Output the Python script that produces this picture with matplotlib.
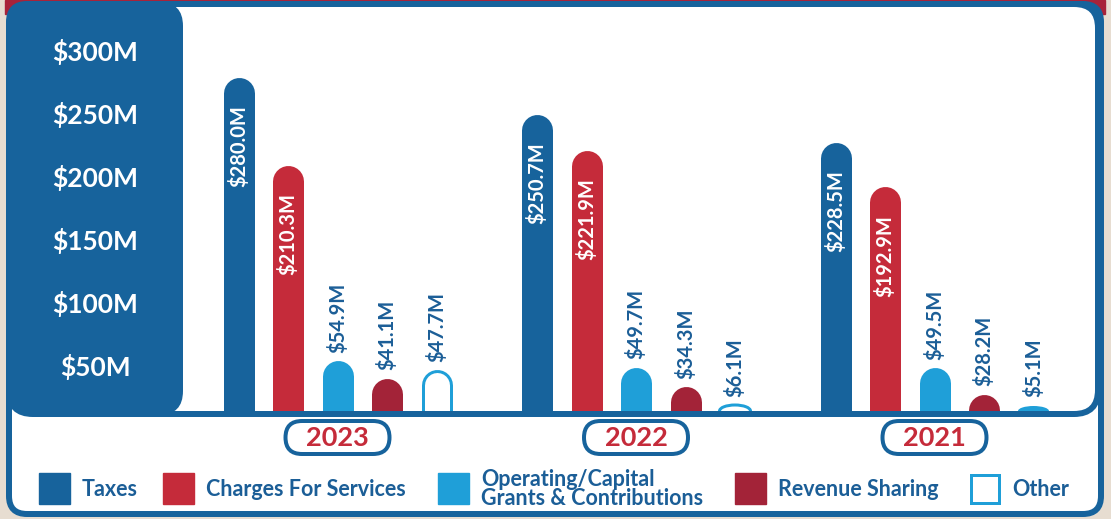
import matplotlib
matplotlib.use("Agg")
import matplotlib.pyplot as plt
from matplotlib.patches import FancyBboxPatch, Rectangle, Ellipse

plt.rcParams['font.family'] = ['Lato', 'DejaVu Sans']

# data ($M)
years = ['2023', '2022', '2021']
categories = ['Taxes', 'Charges For Services', 'Operating/Capital\nGrants & Contributions',
              'Revenue Sharing', 'Other']
taxes = [280.0, 250.7, 228.5]
charges = [210.3, 221.9, 192.9]
grants = [54.9, 49.7, 49.5]
revenue_sharing = [41.1, 34.3, 28.2]
other = [47.7, 6.1, 5.1]
tick_values = [50, 100, 150, 200, 250, 300]
tick_labels = ['$50M', '$100M', '$150M', '$200M', '$250M', '$300M']

series = [taxes, charges, grants, revenue_sharing, other]
colors = ['#17639c', '#c52b3a', '#1f9fd8', '#a32338', '#1f9fd8']
navy = '#17639c'
text_blue = '#1b5e97'
red = '#c52b3a'

W, H = 1111, 519
fig = plt.figure(figsize=(W / 100, H / 100), dpi=100)
fig.patch.set_facecolor('#e7ddd1')

# background / frame in pixel coords
bg = fig.add_axes([0, 0, 1, 1])
bg.set_xlim(0, W)
bg.set_ylim(H, 0)
bg.axis('off')

def px(v):
    return v * 0.72  # pixels -> points

bg.add_patch(Rectangle((5, 0), 1100, 14, color='#a8233a', zorder=0))
bg.add_patch(FancyBboxPatch((9, 4), 1092, 510, boxstyle='round,pad=0,rounding_size=18',
                            fc='white', ec=navy, lw=px(6), zorder=1))
bg.add_patch(FancyBboxPatch((9, 4), 1089, 410, boxstyle='round,pad=0,rounding_size=24',
                            fc='white', ec=navy, lw=px(6), zorder=2))
bg.add_patch(FancyBboxPatch((7, 2), 176, 413, boxstyle='round,pad=0,rounding_size=24',
                            fc=navy, ec='none', zorder=3))

# legend
leg_x = [39, 163, 438, 735, 969]
for i, lab in enumerate(categories):
    x0 = leg_x[i]
    if lab == 'Other':
        bg.add_patch(Rectangle((x0 + 1.5, 474.5), 28, 28, fc='white', ec=colors[i], lw=px(3), zorder=4))
    else:
        bg.add_patch(Rectangle((x0, 473), 31, 31, color=colors[i], zorder=4))
    bg.text(x0 + 43, 489, lab, color=text_blue, fontsize=15.5, fontweight='bold',
            va='center', ha='left', linespacing=0.92, zorder=5)

# chart axes
top_px, bot_px = 5, 411
left_px, right_px = 183, 1097
ax = fig.add_axes([left_px / W, (H - bot_px) / H, (right_px - left_px) / W, (bot_px - top_px) / H])
ax.patch.set_alpha(0)
ymin, ymax = 15.08, 337.3
ax.set_ylim(ymin, ymax)
group_px = 298.5
xmin = -(337.5 - left_px) / group_px
ax.set_xlim(xmin, xmin + (right_px - left_px) / group_px)
ax.axis('off')

px_per_unit = (bot_px - top_px) / (ymax - ymin)
def dpx(p):
    return p / px_per_unit

step = 49.5 / group_px
bar_w = 31
r = dpx(bar_w / 2)
for g in range(len(years)):
    for i, vals in enumerate(series):
        v = vals[g]
        x = g + (i - 2) * step
        vis_top = v
        if v > ymin + r:
            ax.plot([x, x], [0, v - r], color=colors[i], lw=px(bar_w),
                    solid_capstyle='round', zorder=2)
            if categories[i] == 'Other':
                ax.plot([x, x], [0, v - r], color='white', lw=px(bar_w - 6),
                        solid_capstyle='round', zorder=3)
        else:
            # tiny value: only a flat dome shows above the baseline
            wd = bar_w / group_px
            if g == 1:
                ax.add_patch(Ellipse((x, ymin), wd, dpx(12), fc='white', ec=colors[i],
                                     lw=px(3), zorder=2))
            else:
                ax.add_patch(Ellipse((x, ymin), wd, dpx(10), fc=colors[i], ec='none', zorder=2))
            vis_top = ymin + dpx(6)
        lab = '$%.1fM' % v
        if v > 100:
            ax.text(x, v - dpx(28), lab, rotation=90, ha='center', va='top',
                    color='white', fontsize=14.5, fontweight='bold', zorder=4)
        else:
            ax.text(x, vis_top + dpx(8), lab, rotation=90, ha='center', va='bottom',
                    color=text_blue, fontsize=14.5, fontweight='bold', zorder=4)

# y tick labels inside the left panel
for tv, tl in zip(tick_values, tick_labels):
    ax.text((95 - left_px) / (right_px - left_px), tv, tl, transform=ax.get_yaxis_transform(),
            ha='center', va='center', color='white', fontsize=19, fontweight='bold', clip_on=False)

# year pills
fig.canvas.draw()
for g, yr in enumerate(years):
    cx = ax.transData.transform((g, 0))[0]
    bg.add_patch(FancyBboxPatch((cx - 52, 421), 104, 33, boxstyle='round,pad=0,rounding_size=16.5',
                                fc='white', ec=navy, lw=px(4), zorder=6))
    bg.text(cx, 438, yr, ha='center', va='center', color=red, fontsize=19.5,
            fontweight='bold', zorder=7)

fig.savefig('out.png', dpi=100, facecolor=fig.get_facecolor())
